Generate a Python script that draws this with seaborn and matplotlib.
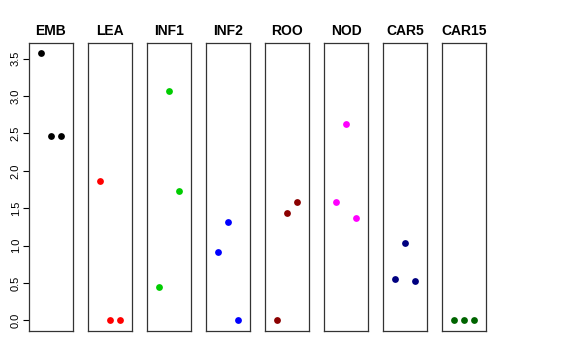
import numpy as np
import pandas as pd
import matplotlib
matplotlib.use("Agg")
import matplotlib.pyplot as plt
import seaborn as sns

sns.set_style("white")
plt.rcParams['font.family'] = ['Liberation Sans', 'DejaVu Sans']
plt.rcParams['text.color'] = 'black'
plt.rcParams['ytick.color'] = 'black'

# tissues, colours and the three replicate values per tissue
tissues = ["EMB", "LEA", "INF1", "INF2", "ROO", "NOD", "CAR5", "CAR15"]
colors = ["black", "red", "#00CD00", "blue", "#8B0000", "magenta", "#000080", "#006400"]
values = [
    [3.57, 2.46, 2.47],
    [1.86, 0.00, 0.00],
    [3.07, 1.73, 0.45],
    [1.31, 0.91, 0.00],
    [1.58, 1.43, 0.00],
    [2.62, 1.58, 1.37],
    [1.03, 0.55, 0.53],
    [0.00, 0.00, 0.00],
]
# horizontal jitter slot (-1 left, 0 centre, 1 right) for each point
jitter = [
    [-1, 0, 1],
    [-1, 0, 1],
    [0, 1, -1],
    [0, -1, 1],
    [1, 0, -1],
    [0, -1, 1],
    [0, -1, 1],
    [-1, 0, 1],
]

rows = []
for t, vals, js in zip(tissues, values, jitter):
    for v, j in zip(vals, js):
        rows.append({"tissue": t, "value": v, "slot": j})
df = pd.DataFrame(rows)

W, H = 576, 360
fig = plt.figure(figsize=(W / 100, H / 100), dpi=100)

left0, pw, step = 29, 44, 59
top, bottom = 43, 331
ymin, ymax = -0.143, 3.71

for i, (t, c) in enumerate(zip(tissues, colors)):
    ax = fig.add_axes([(left0 + i * step) / W, (H - bottom) / H, pw / W, (bottom - top) / H])
    sub = df[df["tissue"] == t]
    sns.scatterplot(data=sub, x="slot", y="value", color=c, s=24, edgecolor=c,
                    linewidth=0, ax=ax, legend=False)
    ax.set_xlim(-2.2, 2.2)
    ax.set_ylim(ymin, ymax)
    ax.set_xlabel("")
    ax.set_ylabel("")
    ax.set_xticks([])
    ax.set_title(t, fontsize=10, fontweight="bold", pad=6, color="black")
    for sp in ax.spines.values():
        sp.set_visible(True)
        sp.set_color("#333333")
        sp.set_linewidth(0.9)
    if i == 0:
        ticks = np.arange(0, 3.51, 0.5)
        ax.set_yticks(ticks)
        ax.set_yticklabels([f"{v:.1f}" for v in ticks], rotation=90, va="center", fontsize=8)
        ax.tick_params(axis="y", direction="out", length=4, width=0.8, left=True, pad=2,
                       colors="black")
    else:
        ax.set_yticks([])

fig.savefig("out.png", dpi=100)
